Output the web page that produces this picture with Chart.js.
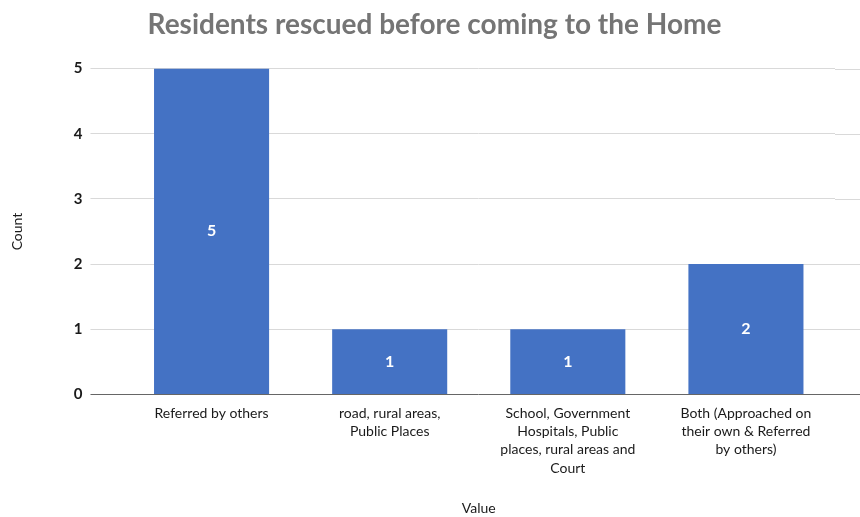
<!DOCTYPE html>
<html>
<head>
<meta charset="utf-8">
<script src="https://cdn.jsdelivr.net/npm/chart.js@4.4.1/dist/chart.umd.min.js"></script>
<style>
  html, body { margin: 0; padding: 0; background: #fff; }
  #wrap { width: 860px; height: 517px; }
</style>
</head>
<body>
<div id="wrap"><canvas id="chart" width="860" height="517"></canvas></div>
<script>
const categories = [
  "Referred by others",
  ["road, rural areas,", "Public Places"],
  ["School, Government", "Hospitals, Public", "places, rural areas and", "Court"],
  ["Both (Approached on", "their own & Referred", "by others)"]
];
const counts = [5, 1, 1, 2];
const yTicks = [0, 1, 2, 3, 4, 5];

const FONT = "Lato, 'Open Sans', sans-serif";

/* value labels inside the bars */
const barLabels = {
  id: "barLabels",
  afterDatasetsDraw(chart) {
    const ctx = chart.ctx;
    const meta = chart.getDatasetMeta(0);
    ctx.save();
    ctx.fillStyle = "#ffffff";
    ctx.font = "bold 16px " + FONT;
    ctx.textAlign = "center";
    ctx.textBaseline = "middle";
    meta.data.forEach((bar, i) => {
      const mid = (bar.y + bar.base) / 2;
      ctx.fillText(String(counts[i]), bar.x, mid);
    });
    ctx.restore();
  }
};

/* gridlines run on to the right edge of the picture */
const gridTail = {
  id: "gridTail",
  beforeDatasetsDraw(chart) {
    const ctx = chart.ctx;
    const y = chart.scales.y;
    const right = chart.chartArea.right;
    ctx.save();
    yTicks.forEach(v => {
      const py = Math.round(y.getPixelForValue(v)) + 0.5;
      ctx.strokeStyle = v === 0 ? "#666666" : "#d9d9d9";
      ctx.lineWidth = 1;
      ctx.beginPath();
      ctx.moveTo(right, py);
      ctx.lineTo(chart.width, py);
      ctx.stroke();
    });
    ctx.restore();
  }
};

new Chart(document.getElementById("chart"), {
  type: "bar",
  data: {
    labels: categories,
    datasets: [{
      data: counts,
      backgroundColor: "#4472c4",
      categoryPercentage: 1,
      barPercentage: 0.646
    }]
  },
  options: {
    responsive: false,
    animation: false,
    layout: { padding: { left: 9, right: 0, top: 0, bottom: 0 } },
    plugins: {
      legend: { display: false },
      tooltip: { enabled: false },
      title: {
        display: true,
        text: "Residents rescued before coming to the Home",
        color: "#757575",
        font: { family: FONT, size: 28, weight: "bold" },
        padding: { top: 8, bottom: 27 }
      }
    },
    scales: {
      x: {
        afterFit(axis) { axis.paddingRight = 25; },
        grid: { display: false },
        border: { display: false },
        ticks: {
          color: "#1a1a1a",
          font: { family: FONT, size: 14, lineHeight: 1.3 },
          maxRotation: 0,
          autoSkip: false,
          padding: 2
        },
        title: {
          display: true,
          text: "Value",
          color: "#1a1a1a",
          font: { family: FONT, size: 14 },
          padding: { top: 21, bottom: 0 }
        }
      },
      y: {
        min: 0,
        max: 5,
        afterBuildTicks(axis) {
          axis.ticks = yTicks.map(v => ({ value: v }));
        },
        grid: {
          color: ctx => ctx.tick && ctx.tick.value === 0 ? "#666666" : "#d9d9d9",
          tickLength: 32,
          drawTicks: true
        },
        border: { display: false },
        ticks: {
          color: "#1a1a1a",
          font: { family: FONT, size: 15, weight: "bold" },
          padding: 8
        },
        title: {
          display: true,
          text: "Count",
          color: "#1a1a1a",
          font: { family: FONT, size: 14 },
          padding: { top: 0, bottom: 40 }
        }
      }
    }
  },
  plugins: [barLabels, gridTail]
});
</script>
</body>
</html>
